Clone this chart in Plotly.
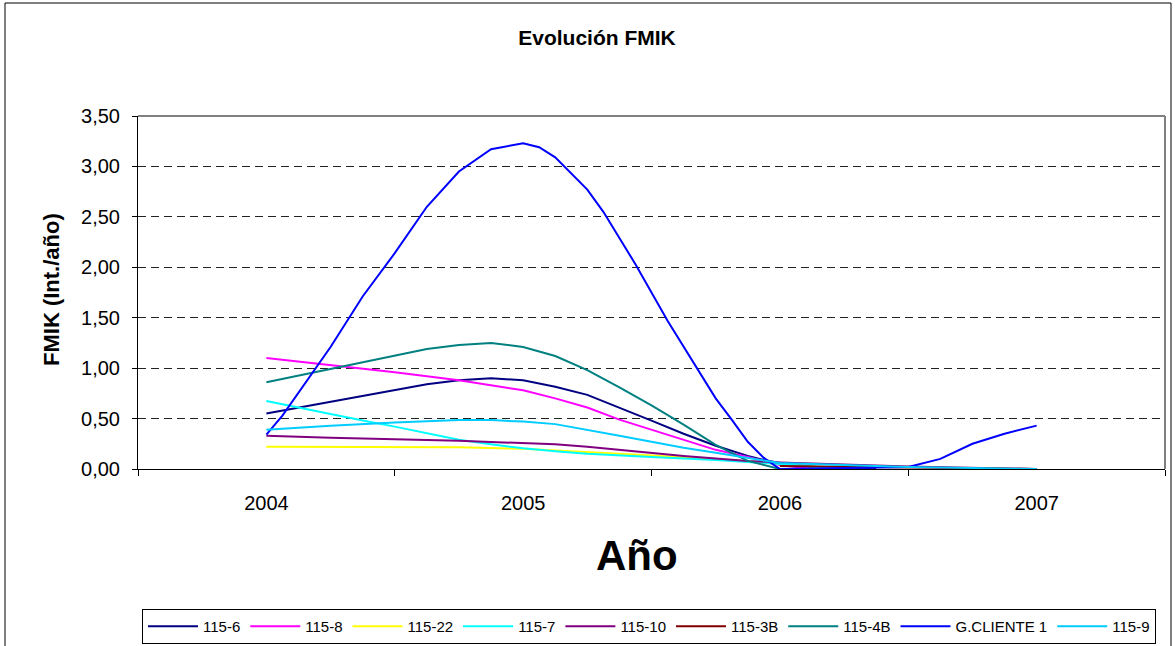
import plotly.graph_objects as go

# ---------------- data ----------------
year_labels = ["2004", "2005", "2006", "2007"]
year_centers = [2004, 2005, 2006, 2007]
year_bounds = [2003.5, 2004.5, 2005.5, 2006.5, 2007.5]
y_ticks = [0, 0.5, 1.0, 1.5, 2.0, 2.5, 3.0, 3.5]

s_115_6_x = [2004.0, 2004.625, 2004.75, 2004.875, 2005.0, 2005.125, 2005.25, 2005.375, 2005.5,
             2005.625, 2005.75, 2005.875, 2005.9375, 2006.0, 2006.125, 2006.375]
s_115_6_y = [0.55, 0.84, 0.88, 0.90, 0.88, 0.815, 0.735, 0.61, 0.48,
             0.35, 0.23, 0.13, 0.09, 0.06, 0.02, 0.0]

s_115_8_x = [2004.0, 2004.5, 2004.75, 2004.875, 2005.0, 2005.125, 2005.25, 2005.375, 2005.5,
             2005.625, 2005.75, 2005.875, 2006.0, 2006.125]
s_115_8_y = [1.10, 0.96, 0.88, 0.83, 0.78, 0.70, 0.61, 0.49, 0.39,
             0.29, 0.19, 0.12, 0.04, 0.0]

s_115_22_x = [2004.0, 2004.75, 2005.0, 2005.125, 2005.25, 2005.5, 2005.75, 2006.0, 2006.25]
s_115_22_y = [0.22, 0.215, 0.20, 0.185, 0.165, 0.135, 0.10, 0.05, 0.0]

s_115_7_x = [2004.0, 2004.125, 2004.25, 2004.375, 2004.5, 2004.625, 2004.75, 2004.875, 2005.0,
             2005.125, 2005.25, 2005.5, 2005.75, 2006.0, 2006.25]
s_115_7_y = [0.675, 0.61, 0.54, 0.48, 0.42, 0.355, 0.29, 0.245, 0.205,
             0.175, 0.15, 0.12, 0.09, 0.05, 0.0]

s_115_10_x = [2004.0, 2004.25, 2004.75, 2005.0, 2005.125, 2005.25, 2005.375, 2005.5, 2005.625,
              2005.75, 2005.875, 2006.0, 2006.5, 2007.0]
s_115_10_y = [0.33, 0.31, 0.28, 0.26, 0.245, 0.22, 0.19, 0.155, 0.13,
              0.105, 0.08, 0.065, 0.025, 0.0]

s_115_3b_x = [2006.0, 2006.5, 2007.0]
s_115_3b_y = [0.03, 0.015, 0.0]

s_115_4b_x = [2004.0, 2004.625, 2004.75, 2004.875, 2005.0, 2005.125, 2005.25, 2005.375, 2005.5,
              2005.625, 2005.75, 2005.875, 2006.0]
s_115_4b_y = [0.86, 1.19, 1.23, 1.25, 1.21, 1.12, 0.98, 0.81, 0.63,
              0.44, 0.24, 0.08, 0.0]

s_gcli_x = [2004.0, 2004.0625, 2004.25, 2004.375, 2004.5, 2004.625, 2004.75, 2004.875, 2005.0,
            2005.0625, 2005.125, 2005.25, 2005.3125, 2005.4375, 2005.5625, 2005.6875, 2005.75,
            2005.8125, 2005.875, 2005.9375, 2006.0, 2006.5, 2006.625, 2006.75, 2006.875, 2007.0]
s_gcli_y = [0.34, 0.53, 1.21, 1.71, 2.14, 2.60, 2.95, 3.17, 3.23,
            3.19, 3.09, 2.77, 2.55, 2.03, 1.47, 0.96, 0.70,
            0.49, 0.27, 0.11, 0.0, 0.02, 0.10, 0.25, 0.35, 0.43]

s_115_9_x = [2004.0, 2004.25, 2004.5, 2004.75, 2004.875, 2005.0, 2005.125, 2005.25, 2005.375,
             2005.5, 2005.625, 2005.75, 2005.875, 2006.0, 2006.5, 2007.0]
s_115_9_y = [0.39, 0.43, 0.46, 0.485, 0.485, 0.47, 0.445, 0.39, 0.33,
             0.27, 0.21, 0.16, 0.11, 0.06, 0.02, 0.0]

series = [
    ("115-6", s_115_6_x, s_115_6_y, "#000080"),
    ("115-8", s_115_8_x, s_115_8_y, "#FF00FF"),
    ("115-22", s_115_22_x, s_115_22_y, "#FFFF00"),
    ("115-7", s_115_7_x, s_115_7_y, "#00FFFF"),
    ("115-10", s_115_10_x, s_115_10_y, "#800080"),
    ("115-3B", s_115_3b_x, s_115_3b_y, "#800000"),
    ("115-4B", s_115_4b_x, s_115_4b_y, "#008080"),
    ("G.CLIENTE 1", s_gcli_x, s_gcli_y, "#0000FF"),
    ("115-9", s_115_9_x, s_115_9_y, "#00CCFF"),
]

FONT = "Arial, 'Liberation Sans', sans-serif"

fig = go.Figure()
for name, xs, ys, col in series:
    fig.add_trace(go.Scatter(x=xs, y=ys, name=name, mode="lines",
                             line=dict(color=col, width=2)))

fig.update_layout(
    width=1175, height=646,
    margin=dict(l=138, r=10, t=116, b=177, autoexpand=False),
    paper_bgcolor="white", plot_bgcolor="white",
    separators=",.",
    font=dict(family=FONT, color="black"),
    title=dict(text="<b>Evolución FMIK</b>", x=597 / 1175, xanchor="center",
               y=1 - 38 / 646, yanchor="middle", yref="container",
               font=dict(size=21, family=FONT, color="black")),
    showlegend=True,
    legend=dict(orientation="h", x=(649 - 138) / 1027, xanchor="center",
                y=(469 - 609) / 353, yanchor="top",
                bordercolor="black", borderwidth=1, bgcolor="white",
                font=dict(size=15, family=FONT, color="black"),
                itemwidth=50, traceorder="normal"),
)

fig.update_xaxes(
    range=[2003.5, 2007.5], tickmode="array", tickvals=year_centers, ticktext=year_labels,
    ticks="", showgrid=False, zeroline=False, showline=True, linecolor="black", linewidth=1,
    tickfont=dict(size=20, family=FONT, color="black"), ticklabelstandoff=16,
    minor=dict(tickmode="array", tickvals=year_bounds, ticks="outside", ticklen=6,
               tickcolor="black", tickwidth=1, showgrid=False),
)
fig.update_yaxes(
    range=[0, 3.5], tickmode="array", tickvals=y_ticks, tickformat=".2f",
    ticks="outside", ticklen=5, tickcolor="black",
    showgrid=True, gridcolor="#222222", gridwidth=1, griddash="8px,5px",
    zeroline=False, showline=True, linecolor="black", linewidth=1,
    tickfont=dict(size=20, family=FONT, color="black"), ticklabelstandoff=8,
)

# plot-area border (top and right, grey) and chart-area border
fig.add_shape(type="line", xref="paper", yref="paper", x0=0, x1=1, y0=1, y1=1,
              line=dict(color="#808080", width=2), layer="above")
fig.add_shape(type="line", xref="paper", yref="paper", x0=1, x1=1, y0=0, y1=1,
              line=dict(color="#808080", width=2), layer="above")
fig.add_shape(type="rect", xref="paper", yref="paper",
              x0=(5 - 138) / 1027, x1=(1171 - 138) / 1027,
              y0=(469 - 700) / 353, y1=(469 - 3) / 353,
              line=dict(color="black", width=1), layer="below")

fig.add_annotation(text="<b>FMIK (Int./año)</b>", textangle=-90, xref="paper", yref="paper",
                   x=(51 - 138) / 1027, y=(469 - 290) / 353, xanchor="center", yanchor="middle",
                   showarrow=False, font=dict(size=22, family=FONT, color="black"))
fig.add_annotation(text="<b>Año</b>", xref="paper", yref="paper",
                   x=(637 - 138) / 1027, y=(469 - 555) / 353, xanchor="center", yanchor="middle",
                   showarrow=False, font=dict(size=42, family=FONT, color="black"))

fig.write_html("out.html")
